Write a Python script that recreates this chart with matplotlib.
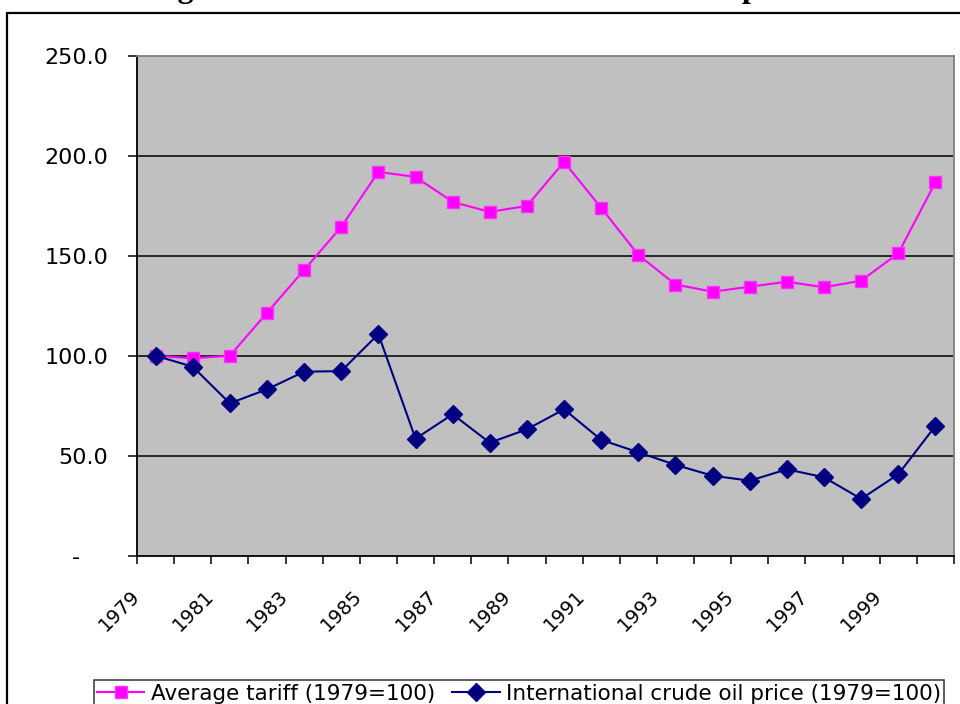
import matplotlib.pyplot as plt
from matplotlib.patches import Rectangle
from matplotlib.transforms import ScaledTranslation
import numpy as np

years = list(range(1979, 2001))
tariff = [100.0, 98.7, 100.0, 121.4, 142.9, 164.4, 191.9, 189.4, 176.9, 171.9,
          174.9, 196.9, 173.9, 150.4, 135.6, 132.0, 134.5, 137.0, 134.2, 137.5,
          151.2, 186.7]
oil = [100.0, 94.5, 76.2, 83.2, 92.0, 92.3, 110.8, 58.5, 70.7, 56.5,
       63.2, 73.2, 57.9, 51.7, 45.4, 40.0, 37.5, 43.2, 39.2, 28.4,
       40.7, 64.9]
y_ticks = [0, 50, 100, 150, 200, 250]
y_labels = ["-    ", "50.0", "100.0", "150.0", "200.0", "250.0"]

title = "Figure 1: Tariff and international crude oil price"

plt.rcParams["font.family"] = ["DejaVu Sans"]

fig = plt.figure(figsize=(9.6, 7.04), dpi=100)

# outer chart frame (right and bottom run off the canvas)
fig.patches.append(Rectangle((7 / 960, -0.05), 1.2, (704 - 13) / 704 + 0.05,
                             transform=fig.transFigure, fill=False,
                             edgecolor="black", lw=1.6))

# title, mostly cut off at the top of the picture as in the original
fig.text(0.5, 1 + 2.5 / 704, title, ha="center", va="baseline",
         family="Liberation Serif", weight="bold", fontsize=23)

ax = fig.add_axes([137 / 960, 1 - 555.7 / 704, 817 / 960, 500 / 704])
ax.set_facecolor("#C0C0C0")

x = np.arange(len(years))
ax.plot(x, tariff, color="#FF00FF", lw=1.5, marker="s", ms=9,
        mfc="#FF00FF", mec="#FF33FF", label="Average tariff (1979=100)")
ax.plot(x, oil, color="#000080", lw=1.5, marker="D", ms=9,
        mfc="#000080", mec="#000080",
        label="International crude oil price (1979=100)")

ax.set_xlim(-0.5, len(years) - 0.5)
ax.set_ylim(0, 250)

for v in y_ticks[1:-1]:
    ax.axhline(v, color="black", lw=1.1, zorder=1)

ax.set_yticks(y_ticks, y_labels)
ax.tick_params(axis="y", direction="out", length=6.5, width=1.1,
               pad=14, labelsize=16)

edges = np.arange(len(years) + 1) - 0.5
ax.set_xticks(edges, [""] * len(edges))
ax.tick_params(axis="x", which="major", direction="out", length=5.5, width=1.1)
ax.set_xticks(x[::2], [str(y) for y in years[::2]], minor=True)
ax.tick_params(axis="x", which="minor", length=0, pad=27, labelsize=14)
shift = ScaledTranslation(-19 / 100, 0, fig.dpi_scale_trans)
for lab in ax.get_xticklabels(minor=True):
    lab.set_rotation(45)
    lab.set_ha("right")
    lab.set_va("center")
    lab.set_rotation_mode("anchor")
    lab.set_transform(lab.get_transform() + shift)

for side in ["left", "bottom"]:
    ax.spines[side].set_color("black")
    ax.spines[side].set_linewidth(1.3)
for side in ["top", "right"]:
    ax.spines[side].set_color("#808080")
    ax.spines[side].set_linewidth(1.3)

leg = fig.legend(loc="lower center", bbox_to_anchor=(0.5406, -0.004), ncol=2,
                 frameon=True, fancybox=False, edgecolor="black",
                 fontsize=15.5, handlelength=2.2, handletextpad=0.3,
                 columnspacing=0.8, borderpad=0.15, borderaxespad=0)
leg.get_frame().set_linewidth(1.1)

fig.savefig("out.png", dpi=100)
